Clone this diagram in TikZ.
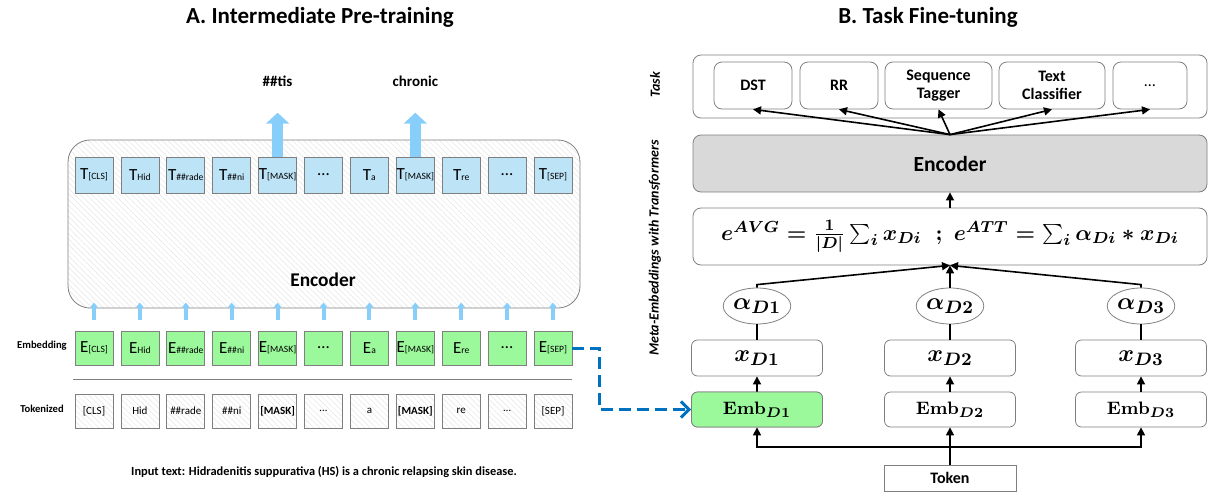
\documentclass[tikz,border=0pt]{standalone}
\usepackage{fontspec}
\setmainfont{Carlito}
\usetikzlibrary{arrows.meta,patterns.meta,shapes.geometric}
\definecolor{tokblue}{HTML}{BDE3F7}
\definecolor{upblue}{HTML}{87CEFA}
\definecolor{embgreen}{HTML}{9BF99B}
\definecolor{linkblue}{HTML}{0070C0}
\definecolor{encgray}{HTML}{D9D9D9}
\definecolor{boxline}{HTML}{7F7F7F}
\newcommand{\tsub}[1]{{\fontsize{4.8}{5}\selectfont #1}}
\newsavebox{\eqbox}

\begin{document}
\boldmath
\sbox{\eqbox}{\fontsize{11}{13}\selectfont$e^{AVG}=\frac{1}{\vert D\vert}\sum_i x_{Di}\;\;;\;e^{ATT}=\sum_i\alpha_{Di}*x_{Di}$}%
\begin{tikzpicture}[x=0.5pt, y=-0.5pt,
    title/.style={font=\fontsize{11.5}{13}\selectfont\bfseries},
    hatch/.style={pattern={Lines[angle=-45,distance=2pt,line width=0.25pt]}, pattern color=gray!20},
    encbox/.style={draw=gray, hatch, rounded corners=11pt, minimum width=256pt, minimum height=84pt},
    tokbox/.style={draw=boxline, fill=tokblue, minimum width=19pt, minimum height=18pt, inner sep=0pt, font=\fontsize{8.5}{9}\selectfont},
    embbox/.style={tokbox, fill=embgreen, minimum height=17pt},
    rawbox/.style={draw=boxline, hatch, minimum width=19pt, minimum height=17pt, inner sep=0pt, font=\fontsize{5.5}{6}\selectfont},
    rowlbl/.style={font=\fontsize{5.3}{6}\selectfont\bfseries},
    outlbl/.style={font=\fontsize{7.5}{8}\selectfont\bfseries, inner sep=0pt},
    bigarr/.style={upblue, line width=5.5pt, -{Triangle[width=11.5pt,length=5.5pt]}, shorten >=13pt},
    uparr/.style={upblue, line width=2pt, -{Triangle[width=4pt,length=2.5pt]}, shorten <=5.5pt},
    dasharr/.style={linkblue, line width=1.5pt, dash pattern=on 6pt off 3pt, -{Straight Barb[length=4pt,width=8pt]}},
    sidelbl/.style={rotate=90, font=\fontsize{7}{8}\selectfont\bfseries\itshape},
    bframe/.style={draw=boxline, rounded corners=4pt, minimum width=257pt, minimum height=31.5pt},
    taskbox/.style={draw=boxline, rounded corners=4pt, minimum width=39pt, minimum height=23.5pt, align=center, inner sep=1pt, font=\fontsize{8}{9}\selectfont\bfseries},
    grayenc/.style={bframe, fill=encgray, minimum height=28.5pt, font=\fontsize{10.8}{12}\selectfont\bfseries},
    eqframe/.style={bframe, minimum height=28.5pt},
    weight/.style={draw=boxline, ellipse, minimum width=27pt, minimum height=18pt, inner sep=0pt, font=\fontsize{12.5}{13}\selectfont},
    xbox/.style={draw=boxline, rounded corners=3pt, minimum width=65.5pt, minimum height=18pt, font=\fontsize{12.5}{13}\selectfont},
    srcbox/.style={xbox, minimum height=17.5pt, font=\fontsize{9.5}{10}\selectfont},
    tokenbox/.style={draw=boxline, minimum width=66pt, minimum height=13pt, font=\fontsize{8}{9}\selectfont\bfseries},
    arr/.style={line width=0.8pt, -{Triangle[length=4pt,width=4pt]}},
    link/.style={line width=0.8pt}
  ]
  \useasboundingbox (0,0) rectangle (1210,493);

  %% A. Intermediate Pre-training
  \node[title] (ta) at (320,17) {A. Intermediate Pre-training};
  \node[encbox] (enc) at (324,224) {};
  \node[font=\fontsize{9.7}{11}\selectfont\bfseries] (enclbl) at (323,280) {Encoder};
  \foreach \tl/\el/\kl [count=\i from 0] in {
      {T\tsub{[CLS]}}/{E\tsub{[CLS]}}/{[CLS]},
      {T\tsub{Hid}}/{E\tsub{Hid}}/{Hid},
      {T\tsub{\#\#rade}}/{E\tsub{\#\#rade}}/{\#\#rade},
      {T\tsub{\#\#ni}}/{E\tsub{\#\#ni}}/{\#\#ni},
      {T\tsub{[MASK]}}/{E\tsub{[MASK]}}/{\textbf{[MASK]}},
      {\dots}/{\dots}/{\dots},
      {T\tsub{a}}/{E\tsub{a}}/{a},
      {T\tsub{[MASK]}}/{E\tsub{[MASK]}}/{\textbf{[MASK]}},
      {T\tsub{re}}/{E\tsub{re}}/{re},
      {\dots}/{\dots}/{\dots},
      {T\tsub{[SEP]}}/{E\tsub{[SEP]}}/{[SEP]}}
  {
    \node[tokbox] (t\i) at ({94+45.9*\i},175) {\tl};
    \node[embbox] (e\i) at ({94+45.9*\i},348) {\el};
    \node[rawbox] (k\i) at ({94+45.9*\i},411) {\kl};
    \draw[uparr] (e\i.north) -- ++(0,-28);
  }
  \node[outlbl] (o1) at (t4.center |- 0,81) {\#\#tis};
  \node[outlbl] (o2) at (t7.center |- 0,81) {chronic};
  \draw[bigarr] (t4.north) -- (o1.south);
  \draw[bigarr] (t7.north) -- (o2.south);
  \node[rowlbl] (lemb) at (42,346) {Embedding};
  \node[rowlbl] (ltok) at (42,409) {Tokenized};
  \draw[gray] (73,379) -- (572,379);
  \node[font=\fontsize{6.2}{7}\selectfont\bfseries] (input) at (324,472)
    {Input text: Hidradenitis suppurativa (HS) is a chronic relapsing skin disease.};

  %% B. Task Fine-tuning
  \node[title] (tb) at (928,17) {B. Task Fine-tuning};
  \node[sidelbl] (ltask) at (655,85) {Task};
  \node[sidelbl] (lmeta) at (655,248) {Meta-Embeddings with Transformers};
  \node[bframe] (task) at (950,86.5) {};
  \node[taskbox] (dst) at (753,85.5) {DST};
  \node[taskbox] (rr) at (839,85.5) {RR};
  \node[taskbox, minimum width=53.5pt] (seq) at (938.5,85.5) {Sequence\\Tagger};
  \node[taskbox, minimum width=53pt] (cls) at (1052,85.5) {Text\\Classifier};
  \node[taskbox, minimum width=37pt, font=\fontsize{8}{9}\selectfont] (more) at (1150,85.5) {\dots};
  \node[grayenc] (enc2) at (950,163.5) {Encoder};
  \node[eqframe] (meta) at (950,236.5) {\usebox{\eqbox}};
  \foreach \c/\n [count=\i] in {757/1, 950/2, 1141/3} {
    \node[weight] (a\i) at (\c,306) {$\alpha_{D\n}$};
    \node[xbox] (x\i) at (\c,358) {$x_{D\n}$};
    \node[srcbox] (m\i) at (\c,409.5) {$\mathbf{Emb}_{D\n}$};
    \draw[arr] (m\i.north) -- (x\i.south);
    \draw[link] (x\i.north) -- (a\i.south);
  }
  \node[srcbox, fill=embgreen] at (m1) {$\mathbf{Emb}_{D1}$};
  \node[tokenbox] (tok) at (950,478) {Token};
  \coordinate (split) at (950,447);

  %% connectors
  \foreach \t in {dst,rr,seq,cls,more}
    \draw[arr] (enc2.north) -- (\t.south);
  \draw[arr] (meta.north) -- (enc2.south);
  \draw[arr] (a1.north) -- ++(0,-3) -- (meta.south);
  \draw[arr] (a2.north) -- (meta.south);
  \draw[arr] (a3.north) -- ++(0,-3) -- (meta.south);
  \draw[arr] (tok.north) -- (m2.south);
  \draw[arr] (split) -| (m1.south);
  \draw[arr] (split) -| (m3.south);
  \draw[dasharr] (e10.east) -- ++(27,0) |- (m1.west);

\end{tikzpicture}
\end{document}
